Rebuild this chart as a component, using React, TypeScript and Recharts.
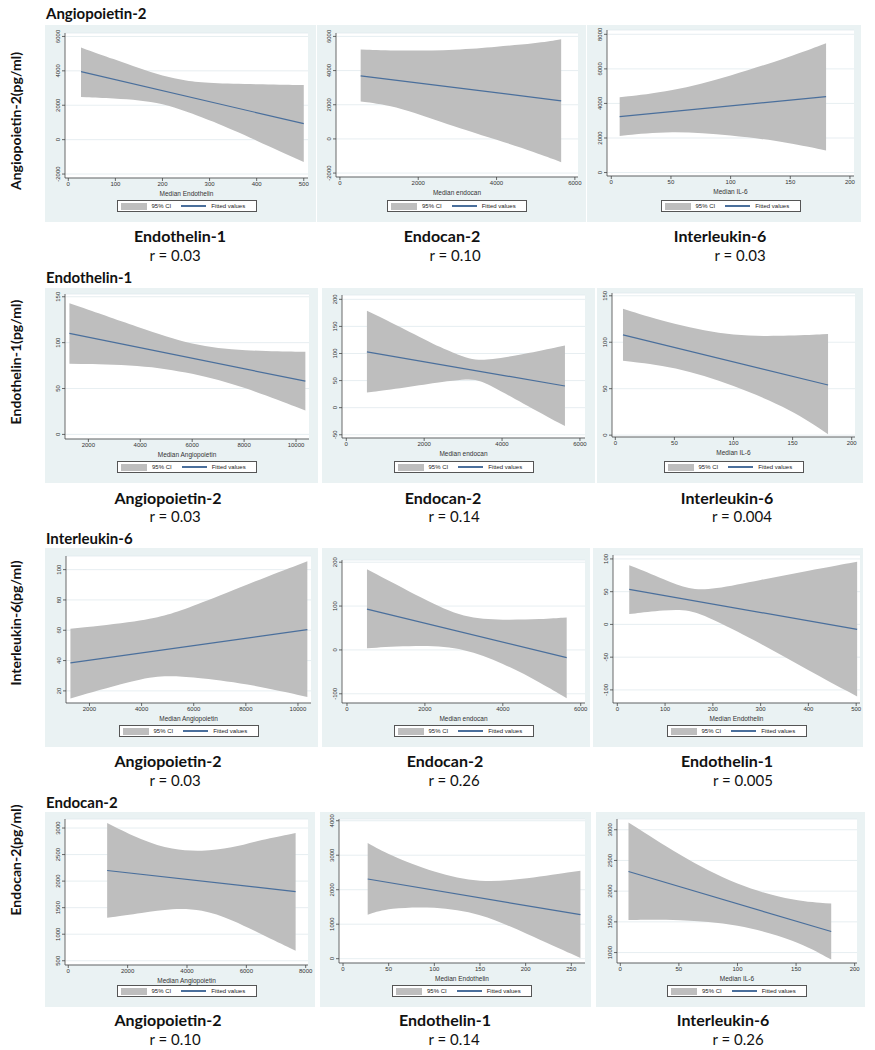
import React from 'react';
import { ComposedChart, Area, Line, XAxis, YAxis, CartesianGrid } from 'recharts';

const BG = '#eaf2f3';
const BAND = '#bebebe';
const FIT = '#4a6f9c';
const AX_FONT = '"Liberation Sans", Arial, sans-serif';
const LABEL_FONT = 'Lato, "Open Sans", sans-serif';

// ---- Row 1: Angiopoietin-2 ----
const p1X = [27, 100, 150, 200, 250, 300, 400, 500];
const p1Hi = [5350, 4650, 4150, 3700, 3420, 3280, 3220, 3170];
const p1Lo = [2480, 2390, 2300, 2100, 1650, 1150, -50, -1300];
const p1Fit = [3950, null, null, null, null, null, null, 930];

const p2X = [530, 1500, 3000, 4000, 5000, 5650];
const p2Hi = [5240, 5150, 5200, 5400, 5590, 5830];
const p2Lo = [2190, 1900, 640, -40, -800, -1360];
const p2Fit = [3690, null, null, null, null, 2230];

const p3X = [7, 50, 100, 150, 180];
const p3Hi = [4360, 4680, 5590, 6700, 7480];
const p3Lo = [2120, 2430, 2180, 1730, 1270];
const p3Fit = [3240, null, null, null, 4390];

// ---- Row 2: Endothelin-1 ----
const p4X = [1270, 4000, 6000, 8000, 10360];
const p4Hi = [143, 116, 97, 91, 90];
const p4Lo = [77, 76, 67, 52, 26];
const p4Fit = [110, null, null, null, 58];

const p5X = [530, 1500, 2500, 3000, 3300, 3700, 4500, 5615];
const p5Hi = [179, 145, 108, 94, 88, 88, 98, 115];
const p5Lo = [28, 37, 48, 52, 53, 42, 9, -34];
const p5Fit = [103, null, null, null, null, null, null, 40];

const p6X = [6.5, 50, 100, 150, 180];
const p6Hi = [136, 119, 106, 107, 109];
const p6Lo = [80, 74, 54, 27, 1];
const p6Fit = [108, null, null, null, 54];

// ---- Row 3: Interleukin-6 ----
const p7X = [1270, 4000, 5000, 6000, 8000, 10360];
const p7Hi = [61, 66, 70, 76, 90, 105.5];
const p7Lo = [15, 28.5, 30, 29, 25, 16];
const p7Fit = [38.5, null, null, null, null, 60.4];

const p8X = [513, 2000, 3000, 4000, 5000, 5640];
const p8Hi = [184, 114, 72, 68, 70, 74];
const p8Lo = [4, 11, 4, -30, -76, -110];
const p8Fit = [93, null, null, null, null, -17.5];

const p9X = [25, 100, 150, 200, 300, 400, 502];
const p9Hi = [90.5, 68, 53, 53, 68, 82, 95.6];
const p9Lo = [15.8, 22, 23, 8, -29, -70, -110];
const p9Fit = [53.4, null, null, null, null, null, -7.6];

// ---- Row 4: Endocan-2 ----
const p10X = [1310, 2500, 3500, 4500, 5500, 6500, 7660];
const p10Hi = [3095, 2760, 2590, 2555, 2620, 2780, 2905];
const p10Lo = [1310, 1400, 1490, 1470, 1280, 1000, 690];
const p10Fit = [2200, null, null, null, null, null, 1803];

const p11X = [27, 50, 100, 150, 200, 260];
const p11Hi = [3355, 3015, 2485, 2195, 2310, 2550];
const p11Lo = [1275, 1470, 1515, 1325, 740, 20];
const p11Fit = [2310, null, null, null, null, 1275];

const p12X = [7, 50, 100, 150, 180];
const p12Hi = [3120, 2590, 2080, 1830, 1800];
const p12Lo = [1530, 1540, 1470, 1200, 885];
const p12Fit = [2320, null, null, null, 1343];

// tick labels
const ticksEndothelin500 = [0, 100, 200, 300, 400, 500];
const ticksEndocan = [0, 2000, 4000, 6000];
const ticksIL6 = [0, 50, 100, 150, 200];
const ticksAngio = [2000, 4000, 6000, 8000, 10000];
const ticksAngio8 = [0, 2000, 4000, 6000, 8000];
const ticksEndothelin260 = [0, 50, 100, 150, 200, 250];

const rowTitles = ['Angiopoietin-2', 'Endothelin-1', 'Interleukin-6', 'Endocan-2'];
const yTitles = ['Angiopoietin-2(pg/ml)', 'Endothelin-1(pg/ml)', 'Interleukin-6(pg/ml)', 'Endocan-2(pg/ml)'];
const bottomNames = [
  ['Endothelin-1', 'Endocan-2', 'Interleukin-6'],
  ['Angiopoietin-2', 'Endocan-2', 'Interleukin-6'],
  ['Angiopoietin-2', 'Endocan-2', 'Endothelin-1'],
  ['Angiopoietin-2', 'Endothelin-1', 'Interleukin-6'],
];
const rValues = [
  ['r = 0.03', 'r = 0.10', 'r = 0.03'],
  ['r = 0.03', 'r = 0.14', 'r = 0.004'],
  ['r = 0.03', 'r = 0.26', 'r = 0.005'],
  ['r = 0.10', 'r = 0.14', 'r = 0.26'],
];

const build = (xs: number[], lo: number[], hi: number[], fit: (number | null)[]) =>
  xs.map((x, i) => ({ x, ci: [lo[i], hi[i]], fit: fit[i] }));

type Panel = {
  x0: number; y0: number; w: number; h: number;
  pl: number; pr: number; pt: number; pb: number;
  data: any[];
  xd: [number, number]; xt: number[];
  yd: [number, number]; yt: number[];
  xTitle: string;
};

const panels: Panel[] = [
  { x0: 45, y0: 25, w: 271, h: 197, pl: 65, pr: 308, pt: 33, pb: 178, data: build(p1X, p1Lo, p1Hi, p1Fit), xd: [-7, 509], xt: ticksEndothelin500, yd: [-2230, 6200], yt: [-2000, 0, 2000, 4000, 6000], xTitle: 'Median Endothelin' },
  { x0: 317, y0: 25, w: 269, h: 197, pl: 336, pr: 578, pt: 33, pb: 177, data: build(p2X, p2Lo, p2Hi, p2Fit), xd: [-100, 6080], xt: ticksEndocan, yd: [-2230, 6200], yt: [-2000, 0, 2000, 4000, 6000], xTitle: 'Median  endocan' },
  { x0: 587, y0: 25, w: 274, h: 197, pl: 607, pr: 854, pt: 30, pb: 176, data: build(p3X, p3Lo, p3Hi, p3Fit), xd: [-3.6, 203.4], xt: ticksIL6, yd: [-200, 8250], yt: [0, 2000, 4000, 6000, 8000], xTitle: 'Median IL-6' },

  { x0: 45, y0: 288, w: 273, h: 195, pl: 65, pr: 309, pt: 294, pb: 439, data: build(p4X, p4Lo, p4Hi, p4Fit), xd: [1100, 10500], xt: ticksAngio, yd: [-5, 153], yt: [0, 50, 100, 150], xTitle: 'Median Angiopoietin' },
  { x0: 322, y0: 288, w: 273, h: 195, pl: 342, pr: 585, pt: 295, pb: 438, data: build(p5X, p5Lo, p5Hi, p5Fit), xd: [-110, 6130], xt: ticksEndocan, yd: [-56, 208], yt: [-50, 0, 50, 100, 150, 200], xTitle: 'Median  endocan' },
  { x0: 597, y0: 288, w: 266, h: 195, pl: 612, pr: 855, pt: 293, pb: 437, data: build(p6X, p6Lo, p6Hi, p6Fit), xd: [-2.8, 202.8], xt: ticksIL6, yd: [-2, 153], yt: [0, 50, 100, 150], xTitle: 'Median IL-6' },

  { x0: 45, y0: 548, w: 273, h: 199, pl: 66, pr: 311, pt: 556, pb: 703, data: build(p7X, p7Lo, p7Hi, p7Fit), xd: [1100, 10500], xt: ticksAngio, yd: [12, 109], yt: [20, 40, 60, 80, 100], xTitle: 'Median Angiopoietin' },
  { x0: 322, y0: 548, w: 268, h: 199, pl: 342, pr: 585, pt: 560, pb: 703, data: build(p8X, p8Lo, p8Hi, p8Fit), xd: [-128, 6110], xt: ticksEndocan, yd: [-121, 205], yt: [-100, 0, 100, 200], xTitle: 'Median  endocan' },
  { x0: 593, y0: 548, w: 270, h: 199, pl: 613, pr: 860, pt: 555, pb: 703, data: build(p9X, p9Lo, p9Hi, p9Fit), xd: [-9, 508], xt: ticksEndothelin500, yd: [-120, 106], yt: [-100, -50, 0, 50, 100], xTitle: 'Median Endothelin' },

  { x0: 45, y0: 812, w: 270, h: 195, pl: 65, pr: 308, pt: 819, pb: 965, data: build(p10X, p10Lo, p10Hi, p10Fit), xd: [-110, 8077], xt: ticksAngio8, yd: [420, 3170], yt: [500, 1000, 1500, 2000, 2500, 3000], xTitle: 'Median Angiopoietin' },
  { x0: 320, y0: 812, w: 271, h: 195, pl: 339, pr: 585, pt: 819, pb: 963, data: build(p11X, p11Lo, p11Hi, p11Fit), xd: [-4.4, 265], xt: ticksEndothelin260, yd: [-125, 4050], yt: [0, 1000, 2000, 3000, 4000], xTitle: 'Median Endothelin' },
  { x0: 596, y0: 812, w: 269, h: 195, pl: 617, pr: 857, pt: 819, pb: 963, data: build(p12X, p12Lo, p12Hi, p12Fit), xd: [-2.8, 202], xt: ticksIL6, yd: [830, 3175], yt: [1000, 1500, 2000, 2500, 3000], xTitle: 'Median IL-6' },
];

const rowTitleY = [13, 277, 538, 802];
const yTitleY = [121, 362, 623, 860];
const bottomLabelY = [[235, 255], [497, 516], [760, 780], [1019, 1039]];
const labelCx = [
  [180, 442, 720],
  [168, 443, 727],
  [168, 445, 727],
  [168, 445, 723],
];
const rCx = [
  [175, 455, 740],
  [175, 454, 742],
  [175, 454, 743],
  [175, 454, 738],
];

const XAXIS_H = 23;

const YTick = (props: any) => {
  const { x, y, payload } = props;
  return (
    <text x={x} y={y} transform={`rotate(-90 ${x} ${y})`} textAnchor="middle" fontSize={6} fill="#333" fontFamily={AX_FONT}>
      {payload.value}
    </text>
  );
};

const LegendBox = ({ cx, top }: { cx: number; top: number }) => (
  <div style={{ position: 'absolute', left: cx - 70, top, width: 140, height: 12, background: '#fff', border: '1px solid #555', boxSizing: 'border-box', display: 'flex', alignItems: 'center', fontFamily: AX_FONT, fontSize: 6, color: '#222', whiteSpace: 'nowrap' }}>
    <div style={{ width: 26, height: 7, background: BAND, marginLeft: 3 }} />
    <span style={{ marginLeft: 5 }}>95% CI</span>
    <div style={{ width: 25, height: 1.2, background: FIT, marginLeft: 10 }} />
    <span style={{ marginLeft: 5 }}>Fitted values</span>
  </div>
);

const PanelChart = ({ p }: { p: Panel }) => {
  const margin = { top: p.pt - p.y0, right: p.x0 + p.w - p.pr, left: 0, bottom: p.y0 + p.h - p.pb - XAXIS_H };
  const cx = (p.pl + p.pr) / 2 - p.x0;
  return (
    <div style={{ position: 'absolute', left: p.x0, top: p.y0, width: p.w, height: p.h, background: BG }}>
      <ComposedChart width={p.w} height={p.h} data={p.data} margin={margin}>
        <CartesianGrid horizontal vertical={false} fill="#ffffff" stroke="#e1eaee" strokeWidth={0.8} />
        <XAxis
          type="number" dataKey="x" domain={p.xd} ticks={p.xt} allowDataOverflow interval={0}
          height={XAXIS_H} tickSize={3} tickMargin={1}
          tick={{ fontSize: 6, fill: '#333', fontFamily: AX_FONT }}
          stroke="#444" strokeWidth={0.8}
          label={{ value: p.xTitle, position: 'insideBottom', offset: 5, fontSize: 6.5, fill: '#333', fontFamily: AX_FONT }}
        />
        <YAxis
          type="number" domain={p.yd} ticks={p.yt} allowDataOverflow interval={0}
          width={p.pl - p.x0} tickSize={3} tickMargin={2}
          tick={<YTick />}
          stroke="#444" strokeWidth={0.8}
        />
        <Area dataKey="ci" type="basis" stroke="none" fill={BAND} fillOpacity={1} isAnimationActive={false} />
        <Line dataKey="fit" type="linear" stroke={FIT} strokeWidth={1.2} dot={false} connectNulls isAnimationActive={false} />
      </ComposedChart>
      <LegendBox cx={cx} top={p.h - 22} />
    </div>
  );
};

const centered = (cx: number, cy: number, text: string, bold: boolean, size: number) => (
  <div key={`${text}-${cx}-${cy}`} style={{ position: 'absolute', left: cx, top: cy, transform: 'translate(-50%, -50%)', fontFamily: LABEL_FONT, fontWeight: bold ? 700 : 400, fontSize: size, color: '#111', whiteSpace: 'nowrap' }}>
    {text}
  </div>
);

export default function App() {
  return (
    <div style={{ position: 'absolute', left: 0, top: 0, width: 875, height: 1050, background: '#fff', overflow: 'hidden' }}>
      {panels.map((p, i) => <PanelChart key={i} p={p} />)}
      {rowTitles.map((t, r) => (
        <div key={t} style={{ position: 'absolute', left: 46, top: rowTitleY[r], transform: 'translateY(-50%)', fontFamily: LABEL_FONT, fontWeight: 700, fontSize: 15, color: '#111', whiteSpace: 'nowrap' }}>{t}</div>
      ))}
      {yTitles.map((t, r) => (
        <div key={t} style={{ position: 'absolute', left: 15, top: yTitleY[r], transform: 'translate(-50%, -50%) rotate(-90deg)', fontFamily: LABEL_FONT, fontWeight: 700, fontSize: 14, color: '#111', whiteSpace: 'nowrap' }}>{t}</div>
      ))}
      {bottomNames.map((row, r) => row.map((t, c) => centered(labelCx[r][c], bottomLabelY[r][0], t, true, 16)))}
      {rValues.map((row, r) => row.map((t, c) => centered(rCx[r][c], bottomLabelY[r][1], t, false, 15)))}
    </div>
  );
}
